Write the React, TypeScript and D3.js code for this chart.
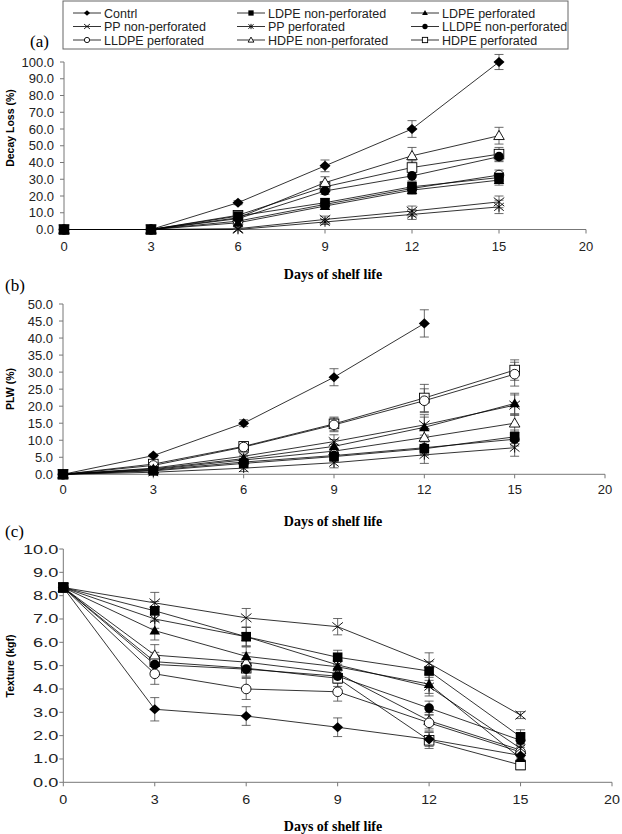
import React from "react";
import * as d3 from "d3";

const days = ["0", "3", "6", "9", "12", "15", "20"];
const seriesNames = [
  "Contrl", "LDPE non-perforated", "LDPE perforated",
  "PP non-perforated", "PP perforated", "LLDPE non-perforated",
  "LLDPE perforated", "HDPE non-perforated", "HDPE perforated",
];
const markerTypes = [
  "diamond", "squareFilled", "triangleFilled",
  "cross", "asterisk", "circleFilled",
  "circleOpen", "triangleOpen", "squareOpen",
];

// (a) Decay loss (%) at days 0,3,6,9,12,15
const decayValues: (number | null)[][] = [
  [0, 0, 16, 38, 60, 100],
  [0, 0, 8, 16, 25.5, 31],
  [0, 0, 4, 14, 23.5, 29.5],
  [0, 0, 0.5, 6, 11, 16.5],
  [0, 0, 0, 4.5, 9, 13.5],
  [0, 0, 6.5, 23, 32, 43.5],
  [0, 0, 5, 15, 24.5, 32.5],
  [0, 0, 7, 28, 44, 56],
  [0, 0, 8.5, 25.5, 37, 45],
];
const decayErrors: (number | null)[][] = [
  [0, 0, 1.2, 3.5, 5, 4.5],
  [0, 0, 1, 2.5, 3, 3],
  [0, 0, 1, 2, 2.5, 3],
  [0, 0, 0.5, 2, 3, 3.5],
  [0, 0, 0.5, 1.5, 3, 4],
  [0, 0, 1, 2, 3, 3],
  [0, 0, 1, 2, 2.5, 3],
  [0, 0, 1, 3.5, 5, 5],
  [0, 0, 1, 3, 4, 4],
];

// (b) PLW (%)
const plwValues: (number | null)[][] = [
  [0, 5.5, 15.0, 28.5, 44.3, null],
  [0, 1.0, 3.2, 5.2, 7.5, 11.0],
  [0, 1.6, 4.6, 8.2, 13.8, 20.8],
  [0, 1.8, 5.3, 9.6, 14.5, 20.3],
  [0, 0.6, 1.8, 3.4, 5.7, 7.8],
  [0, 1.2, 3.6, 5.5, 7.8, 10.3],
  [0, 2.6, 8.0, 14.5, 21.6, 29.4],
  [0, 1.4, 4.2, 6.8, 10.8, 15.0],
  [0, 3.0, 8.2, 14.8, 22.4, 30.6],
];
const plwErrors: (number | null)[][] = [
  [0, 0.4, 1, 2.5, 4, null],
  [0, 0.5, 1, 1.5, 2, 2],
  [0, 0.5, 1, 2, 3, 3],
  [0, 0.5, 1, 2, 3, 3],
  [0, 0.5, 1, 1.5, 2.5, 2.5],
  [0, 0.5, 1, 1.5, 2, 2],
  [0, 0.5, 1, 2, 3.5, 3.5],
  [0, 0.5, 1, 2, 2.5, 2.5],
  [0, 0.5, 1, 2, 4, 3],
];

// (c) Texture (kgf)
const textureValues: (number | null)[][] = [
  [8.35, 3.13, 2.84, 2.36, 1.84, 1.15],
  [8.35, 7.35, 6.24, 5.36, 4.77, 1.95],
  [8.35, 6.5, 5.4, 4.95, 4.21, 1.03],
  [8.35, 7.69, 7.05, 6.67, 5.1, 2.88],
  [8.35, 7.0, 6.24, 5.03, 4.1, 1.45],
  [8.35, 5.05, 4.85, 4.55, 3.18, 1.8],
  [8.35, 4.65, 4.0, 3.88, 2.55, 1.3],
  [8.35, 5.45, 5.15, 4.67, 2.64, 1.38],
  [8.35, 5.17, 4.89, 4.46, 1.8, 0.74],
];
const textureErrors: (number | null)[][] = [
  [0.2, 0.5, 0.4, 0.4, 0.3, 0.2],
  [0.2, 0.4, 0.4, 0.3, 0.4, 0.3],
  [0.2, 0.4, 0.4, 0.3, 0.4, 0.3],
  [0.2, 0.45, 0.4, 0.35, 0.45, 0.15],
  [0.2, 0.4, 0.4, 0.3, 0.4, 0.3],
  [0.2, 0.4, 0.3, 0.3, 0.3, 0.3],
  [0.2, 0.45, 0.45, 0.4, 0.35, 0.3],
  [0.2, 0.45, 0.4, 0.35, 0.35, 0.3],
  [0.2, 0.4, 0.4, 0.35, 0.35, 0.2],
];

const decayTicks = d3.range(0, 101, 10);
const plwTicks = d3.range(0, 51, 5);
const textureTicks = d3.range(0, 11, 1);

const SANS = "'Liberation Sans', Arial, Helvetica, sans-serif";
const SERIF = "'Liberation Serif', 'Times New Roman', serif";
const AXIS = "#777";

function Marker({ type, x, y, s = 1 }: { type: string; x: number; y: number; s?: number }) {
  const r = 4.8 * s;
  const sw = 0.9;
  switch (type) {
    case "diamond":
      return <path d={`M${x},${y - r * 1.05}L${x + r * 1.15},${y}L${x},${y + r * 1.05}L${x - r * 1.15},${y}Z`} fill="#000" />;
    case "squareFilled":
      return <rect x={x - r} y={y - r} width={2 * r} height={2 * r} fill="#000" />;
    case "squareOpen":
      return <rect x={x - r} y={y - r} width={2 * r} height={2 * r} fill="#fff" stroke="#000" strokeWidth={sw} />;
    case "triangleFilled":
      return <path d={`M${x},${y - r * 1.1}L${x + r * 1.1},${y + r * 0.8}L${x - r * 1.1},${y + r * 0.8}Z`} fill="#000" />;
    case "triangleOpen":
      return <path d={`M${x},${y - r * 1.1}L${x + r * 1.1},${y + r * 0.8}L${x - r * 1.1},${y + r * 0.8}Z`} fill="#fff" stroke="#000" strokeWidth={sw} />;
    case "circleFilled":
      return <circle cx={x} cy={y} r={r} fill="#000" />;
    case "circleOpen":
      return <circle cx={x} cy={y} r={r} fill="#fff" stroke="#000" strokeWidth={sw} />;
    case "cross":
      return (
        <g stroke="#000" strokeWidth={sw}>
          <line x1={x - r * 1.1} y1={y - r * 0.9} x2={x + r * 1.1} y2={y + r * 0.9} />
          <line x1={x - r * 1.1} y1={y + r * 0.9} x2={x + r * 1.1} y2={y - r * 0.9} />
        </g>
      );
    case "asterisk":
      return (
        <g stroke="#000" strokeWidth={sw}>
          <line x1={x - r} y1={y - r * 0.8} x2={x + r} y2={y + r * 0.8} />
          <line x1={x - r} y1={y + r * 0.8} x2={x + r} y2={y - r * 0.8} />
          <line x1={x} y1={y - r} x2={x} y2={y + r} />
        </g>
      );
    default:
      return null;
  }
}

type PanelProps = {
  values: (number | null)[][];
  errors: (number | null)[][];
  ticks: number[];
  xLeft: number;
  xRight: number;
  yZero: number;
  yTop: number;
  maxV: number;
  yTitle: string;
  yTitleY: number;
  titleY: number;
  xLabelY: number;
  labelGap: number;
  stretchY: number;
  stretchX: number;
  letter: string;
  letterX: number;
  letterY: number;
};

function Panel(p: PanelProps) {
  const x = d3.scalePoint<string>().domain(days).range([p.xLeft, p.xRight]).padding(0);
  const y = d3.scaleLinear().domain([0, p.maxV]).range([p.yZero, p.yTop]);
  const line = d3
    .line<[string, number | null]>()
    .defined((d) => d[1] !== null)
    .x((d) => x(d[0]) as number)
    .y((d) => y(d[1] as number));
  const drawOrder = d3.range(p.values.length).reverse();

  return (
    <g>
      {/* y axis */}
      <line x1={p.xLeft} y1={y(0)} x2={p.xLeft} y2={y(p.maxV)} stroke={AXIS} strokeWidth={1} />
      {p.ticks.map((t) => (
        <g key={"yt" + t}>
          <line x1={p.xLeft - 4} x2={p.xLeft} y1={y(t)} y2={y(t)} stroke={AXIS} strokeWidth={1} />
          <text
            transform={`translate(${p.xLeft - p.labelGap},${y(t) + 4.5}) scale(${p.stretchY},1)`}
            textAnchor="end"
            fontFamily={SANS}
            fontSize={13}
            fill="#222"
          >
            {t.toFixed(1)}
          </text>
        </g>
      ))}
      {/* x axis */}
      <line x1={p.xLeft} y1={y(0)} x2={p.xRight} y2={y(0)} stroke={AXIS} strokeWidth={1} />
      {days.map((d) => (
        <g key={"xt" + d}>
          <line x1={x(d)} x2={x(d)} y1={y(0)} y2={y(0) + 4} stroke={AXIS} strokeWidth={1} />
          <text
            transform={`translate(${x(d)},${p.xLabelY + 4.5}) scale(${p.stretchX},1)`}
            textAnchor="middle"
            fontFamily={SANS}
            fontSize={13}
            fill="#222"
          >
            {d}
          </text>
        </g>
      ))}
      {/* data */}
      {p.values.map((vals, si) => {
        const pts: [string, number | null][] = vals.map((v, i) => [days[i], v]);
        return (
          <g key={"s" + si}>
            <path d={line(pts) || ""} fill="none" stroke="#000" strokeWidth={0.8} />
          </g>
        );
      })}
      {p.values.map((vals, si) => (
        <g key={"e" + si}>
          {vals.map((v, i) => {
            const e = p.errors[si][i];
            if (v === null || e === null || e === 0) return null;
            const cx = x(days[i]) as number;
            const y1 = y(v + e);
            const y2 = y(Math.max(0, v - e));
            return (
              <g key={i} stroke="#444" strokeWidth={0.8}>
                <line x1={cx} x2={cx} y1={y1} y2={y2} />
                <line x1={cx - 4.5} x2={cx + 4.5} y1={y1} y2={y1} />
                <line x1={cx - 4.5} x2={cx + 4.5} y1={y2} y2={y2} />
              </g>
            );
          })}
        </g>
      ))}
      {drawOrder.map((si) => (
        <g key={"m" + si}>
          {p.values[si].map((v, i) =>
            v === null ? null : <Marker key={i} type={markerTypes[si]} x={x(days[i]) as number} y={y(v)} />
          )}
        </g>
      ))}
      {/* titles */}
      <text
        transform={`translate(14,${p.yTitleY}) rotate(-90)`}
        textAnchor="middle"
        fontFamily={SANS}
        fontWeight="bold"
        fontSize={10.5}
        fill="#000"
      >
        {p.yTitle}
      </text>
      <text x={333} y={p.titleY + 5} textAnchor="middle" fontFamily={SERIF} fontWeight="bold" fontSize={14} fill="#000">
        Days of shelf life
      </text>
      <text x={p.letterX} y={p.letterY + 6} fontFamily={SERIF} fontSize={17} fill="#000">
        {p.letter}
      </text>
    </g>
  );
}

function Legend() {
  const cols = [73, 237, 411];
  const rows = [13, 26.5, 40];
  return (
    <g>
      <rect x={63} y={1} width={505} height={48} fill="#fff" stroke="#666" strokeWidth={1} />
      {seriesNames.map((name, i) => {
        const cx = cols[i % 3];
        const cy = rows[Math.floor(i / 3)];
        return (
          <g key={name}>
            <line x1={cx} x2={cx + 28} y1={cy} y2={cy} stroke="#000" strokeWidth={0.8} />
            <Marker type={markerTypes[i]} x={cx + 14} y={cy} s={0.55} />
            <text x={cx + 31} y={cy + 4.5} fontFamily={SANS} fontSize={12.5} fill="#222">
              {name}
            </text>
          </g>
        );
      })}
    </g>
  );
}

export default function App() {
  return (
    <svg width={622} height={834} style={{ position: "absolute", left: 0, top: 0, background: "#fff" }}>
      <rect width={622} height={834} fill="#fff" />
      <Panel
        values={decayValues}
        errors={decayErrors}
        ticks={decayTicks}
        xLeft={64}
        xRight={586}
        yZero={229.5}
        yTop={62}
        maxV={100}
        yTitle="Decay Loss (%)"
        yTitleY={128}
        titleY={274}
        xLabelY={246.5}
        labelGap={10}
        stretchY={1}
        stretchX={1}
        letter="(a)"
        letterX={30}
        letterY={41}
      />
      <Panel
        values={plwValues}
        errors={plwErrors}
        ticks={plwTicks}
        xLeft={63}
        xRight={605}
        yZero={474.3}
        yTop={304}
        maxV={50}
        yTitle="PLW (%)"
        yTitleY={389}
        titleY={520.5}
        xLabelY={489}
        labelGap={10}
        stretchY={1}
        stretchX={1}
        letter="(b)"
        letterX={5}
        letterY={285}
      />
      <Panel
        values={textureValues}
        errors={textureErrors}
        ticks={textureTicks}
        xLeft={63.3}
        xRight={612}
        yZero={782.3}
        yTop={549}
        maxV={10}
        yTitle="Texture (kgf)"
        yTitleY={666}
        titleY={826}
        xLabelY={799}
        labelGap={5}
        stretchY={1.4}
        stretchX={1.1}
        letter="(c)"
        letterX={5}
        letterY={531}
      />
      <Legend />
    </svg>
  );
}
